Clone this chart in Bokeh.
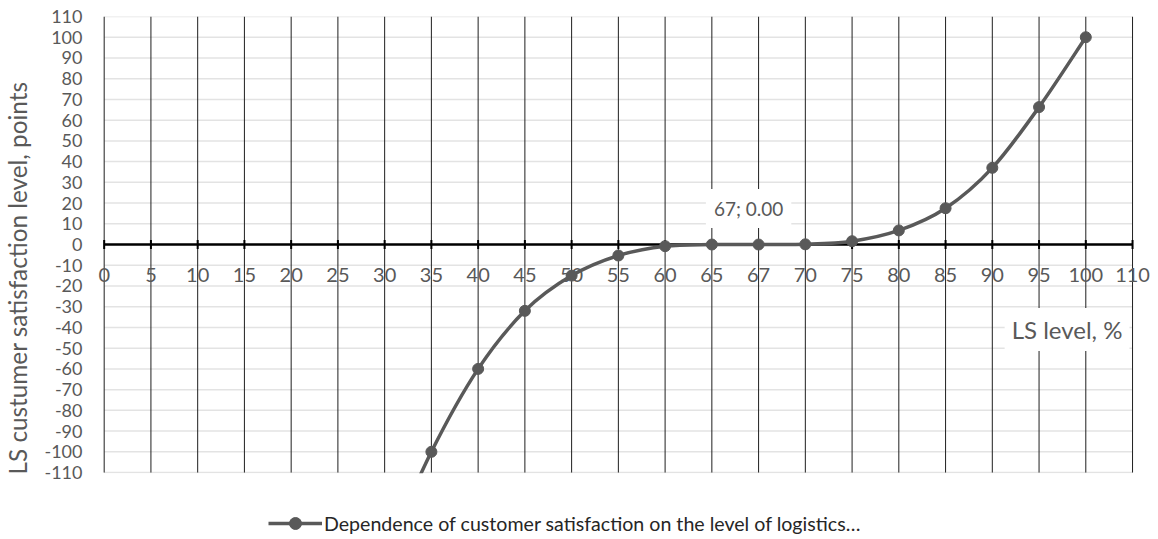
import math
from bokeh.plotting import figure
from bokeh.models import (Range1d, FixedTicker, Label, Legend, LegendItem,
                          ColumnDataSource, LinearAxis, BoxAnnotation)
from bokeh.core.properties import value
from bokeh.embed import file_html
from bokeh.resources import INLINE

# ---------------- data ----------------
categories = ["0", "5", "10", "15", "20", "25", "30", "35", "40", "45", "50",
              "55", "60", "65", "67", "70", "75", "80", "85", "90", "95", "100", "110"]
point_cats = ["30", "35", "40", "45", "50", "55", "60", "65", "67", "70",
              "75", "80", "85", "90", "95", "100"]
point_vals = [-150, -100, -60, -32, -15, -5.3, -0.8, 0, 0, 0.1,
              1.6, 6.8, 17.5, 37, 66.3, 100]
y_ticks = [-110, -100, -90, -80, -70, -60, -50, -40, -30, -20, -10, 0,
           10, 20, 30, 40, 50, 60, 70, 80, 90, 100, 110]
series_name = "Dependence of customer satisfaction on the level of logistics\u2026"
y_title = "LS custumer satisfaction level, points"
x_title = "LS level, %"
label_cat = "67"

FONT = "Lato"
GREY = "#595959"
LINE = "#595959"

cat_idx = list(range(len(categories)))
px = [categories.index(c) for c in point_cats]
py = point_vals
ymin, ymax = y_ticks[0], y_ticks[-1]
xmin, xmax = cat_idx[0], cat_idx[-1]

# Excel-like smoothing via cubic Bezier segments (Catmull-Rom control points)
n = len(px)
x0, y0, x1, y1, cx0, cy0, cx1, cy1 = [], [], [], [], [], [], [], []
for i in range(n - 1):
    pm = max(i - 1, 0)
    pp = min(i + 2, n - 1)
    x0.append(px[i]); y0.append(py[i])
    x1.append(px[i + 1]); y1.append(py[i + 1])
    cx0.append(px[i] + (px[i + 1] - px[pm]) / 6.0)
    cy0.append(py[i] + (py[i + 1] - py[pm]) / 6.0)
    cx1.append(px[i + 1] - (px[pp] - px[i]) / 6.0)
    cy1.append(py[i + 1] - (py[pp] - py[i]) / 6.0)
bez_src = ColumnDataSource(dict(x0=x0, y0=y0, x1=x1, y1=y1,
                                cx0=cx0, cy0=cy0, cx1=cx1, cy1=cy1))
pt_src = ColumnDataSource(dict(x=px, y=py))

# ---------------- figure ----------------
# the frame is a little larger than the plot area so that edge labels and the
# legend are not clipped; the plot area itself is drawn from the data lists
p = figure(width=1158, height=539, output_backend="svg", toolbar_location=None,
           x_axis_location=None, y_axis_location=None,
           x_range=Range1d(xmin - 0.2714, xmax + 0.427),
           y_range=Range1d(ymin - 32.3, ymax),
           min_border_left=90, min_border_right=6, min_border_top=16,
           min_border_bottom=0)
p.outline_line_color = None
p.background_fill_color = "white"
p.border_fill_color = "white"
p.xgrid.visible = False
p.ygrid.visible = False

yaxis = LinearAxis(ticker=FixedTicker(ticks=y_ticks), bounds=(ymin, ymax))
yaxis.major_label_overrides = {t: str(t) for t in y_ticks}
yaxis.axis_line_color = None
yaxis.major_tick_line_color = None
yaxis.major_tick_in = 0
yaxis.major_tick_out = 0
yaxis.minor_tick_line_color = None
yaxis.major_label_standoff = 9
yaxis.major_label_text_font = FONT
yaxis.major_label_text_font_size = "18px"
yaxis.major_label_text_color = GREY
yaxis.axis_label = y_title
yaxis.axis_label_text_font = FONT
yaxis.axis_label_text_font_size = "24.3px"
yaxis.axis_label_text_font_style = "normal"
yaxis.axis_label_text_color = GREY
yaxis.axis_label_standoff = 9
p.add_layout(yaxis, "left")

# gridlines of the plot area
p.segment(x0=[xmin] * len(y_ticks), y0=y_ticks, x1=[xmax] * len(y_ticks), y1=y_ticks,
          line_color="#e3e3e3", line_width=1.5)
p.segment(x0=cat_idx, y0=[ymin] * len(cat_idx), x1=cat_idx, y1=[ymax] * len(cat_idx),
          line_color="#1f1f1f", line_width=1)

# horizontal category axis crossing at y = 0
p.segment(x0=[xmin], y0=[0], x1=[xmax], y1=[0], line_color="black", line_width=2.5)
p.scatter(x=cat_idx, y=[0] * len(cat_idx), marker="dash", angle=math.pi / 2,
          size=9, line_color="black", line_width=2)
p.text(x=cat_idx, y=[0] * len(cat_idx), text=categories, y_offset=30,
       text_align="center", text_baseline="middle",
       text_font=value(FONT), text_font_size="20px", text_color=GREY)

# series
bez = p.bezier(x0="x0", y0="y0", x1="x1", y1="y1", cx0="cx0", cy0="cy0",
               cx1="cx1", cy1="cy1", source=bez_src, line_color=LINE, line_width=3.5)
pts = p.scatter(x="x", y="y", source=pt_src, size=11, fill_color=LINE,
                line_color=LINE)

# everything below the plot area is hidden (chart clipping)
p.add_layout(BoxAnnotation(top=ymin - 0.4, fill_color="white", fill_alpha=1,
                           line_color=None))

# data label
li = point_cats.index(label_cat)
p.add_layout(Label(x=px[li], y=py[li], x_offset=-10, y_offset=36,
                   text=f"{point_cats[li]}; {py[li]:.2f}",
                   text_align="center", text_baseline="middle",
                   text_font=FONT, text_font_size="19px", text_color=GREY,
                   background_fill_color="white", padding=8))

# x axis title
p.add_layout(Label(x=xmax, y=0, x_offset=-65.5, y_offset=-85,
                   text=x_title, text_align="center", text_baseline="middle",
                   text_font=FONT, text_font_size="24px", text_color=GREY,
                   background_fill_color="white", padding=7))

legend = Legend(items=[LegendItem(label=series_name, renderers=[bez, pts])],
                location=(177, 1), orientation="horizontal",
                padding=0, margin=0, spacing=0, glyph_width=54, glyph_height=30,
                label_standoff=2, label_height=30,
                label_text_font=FONT, label_text_font_size="19.6px",
                label_text_color="#262626",
                border_line_color=None, background_fill_alpha=0)
p.add_layout(legend, "center")

open("out.html", "w").write(file_html(p, INLINE))
